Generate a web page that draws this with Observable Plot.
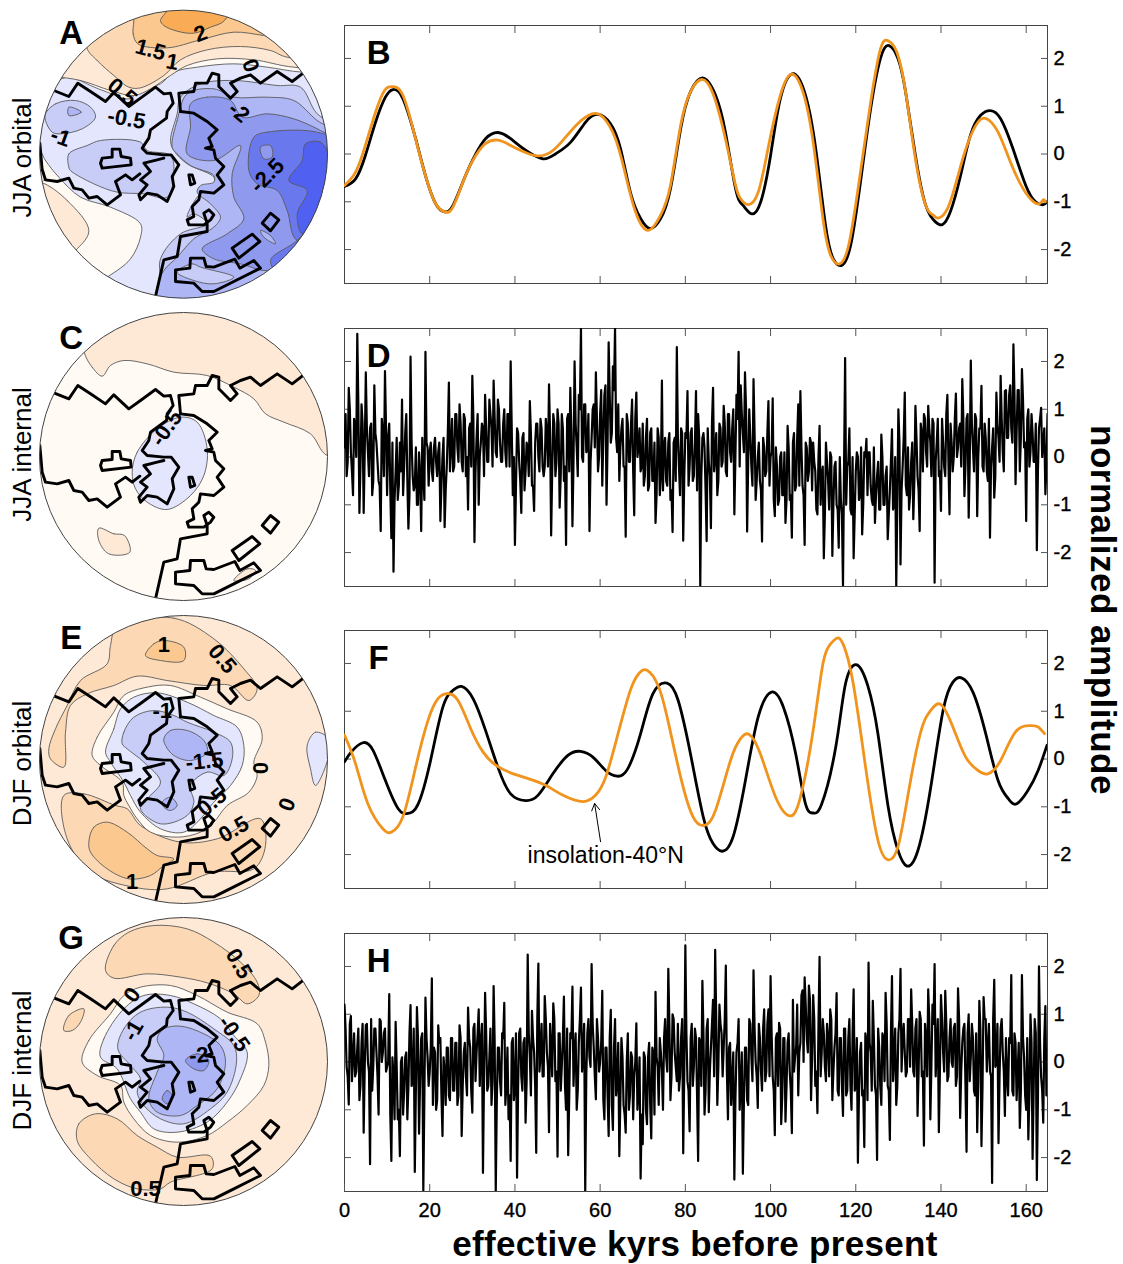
<!DOCTYPE html>
<html><head><meta charset="utf-8">
<script src="https://cdn.jsdelivr.net/npm/d3@7"></script>
<script src="https://cdn.jsdelivr.net/npm/@observablehq/plot@0.6"></script>
<style>
html,body{margin:0;padding:0;background:#fff}
#page{position:relative;width:1123px;height:1264px;overflow:hidden;font-family:"Liberation Sans",Arial,sans-serif}
#page>div{position:absolute}
#page svg{display:block;overflow:visible;background:transparent}
#page svg g[aria-label*="tick label"]{font-size:20px;stroke:#000;stroke-width:.35px}
</style></head><body><div id="page"></div>
<script>
// ---------- time-series values: [effective kyr, normalized amplitude]
const bBlack=[[0,-.68],[2.6,-.52],[4.9,-.03],[7.3,.67],[9.6,1.19],[11.4,1.35],[13.7,1.16],[16.7,.32],[19,-.45],[21.4,-1.04],[23.5,-1.21],[25.5,-1.07],[28.4,-.45],[30.8,0],[33.1,.32],[36,.45],[39,.32],[42.5,.08],[46.6,-.1],[49.5,0],[53.1,.25],[56.6,.67],[59.5,.83],[62.4,.64],[64.8,.11],[67.1,-.8],[69.5,-1.35],[71.8,-1.56],[74.2,-1.35],[76.5,-.73],[78.9,.53],[81.2,1.3],[84.2,1.59],[87.1,1.23],[89.4,.46],[91.8,-.73],[93.5,-1.07],[95.5,-1.25],[97.7,-1],[100,-.03],[102.3,1.16],[105.3,1.68],[108.2,1.23],[110.6,.11],[112.9,-1.49],[114.7,-2.19],[116.7,-2.33],[118.8,-1.91],[121.1,-.59],[123.5,.95],[125.8,2],[127.8,2.27],[129.9,2],[131.7,1.3],[134,-.03],[136.4,-1.07],[138.7,-1.42],[140.3,-1.48],[142.2,-1.21],[144.6,-.45],[146.9,.39],[149.3,.81],[151.6,.91],[154,.74],[156.9,.11],[159.9,-.66],[162.2,-1],[164,-1.06],[164.9,-1]];
const bOrange=[[0,-.66],[2.6,-.38],[4.9,.18],[7.3,.88],[9.4,1.33],[11.2,1.41],[13.7,1.23],[16.5,.38],[19,-.45],[21.4,-1.04],[23.5,-1.21],[25.5,-1.1],[28.4,-.45],[30.8,-.03],[33.1,.22],[36,.29],[39,.18],[42.5,.03],[45.4,-.04],[48.4,.04],[51.3,.29],[54.8,.64],[58.1,.84],[60.7,.77],[63.6,.32],[66,-.45],[68.3,-1.21],[71.2,-1.6],[74.2,-1.28],[76.5,-.66],[78.9,.6],[81.2,1.3],[83.8,1.56],[86.5,1.26],[89.4,.32],[91.8,-.66],[93,-.94],[94.7,-1.06],[97.1,-.8],[99.4,.11],[102.3,1.23],[105,1.67],[107.6,1.3],[110,.25],[112.3,-1.35],[114.1,-2.12],[116.2,-2.3],[118.5,-1.84],[121.1,-.38],[123.5,1.09],[125.8,2.2],[127.6,2.37],[129.6,2.14],[131.7,1.3],[134,-.1],[136.4,-1.07],[138.2,-1.28],[139.4,-1.34],[141.7,-1.11],[144,-.45],[146.4,.25],[148.7,.67],[150.7,.74],[153.4,.46],[156.3,-.17],[159.3,-.73],[161.6,-.99],[163.1,-1.04],[164,-.96],[164.5,-1]];
const fBlack=[[0,-.06],[1.6,.15],[4.3,.34],[6.7,.18],[9.6,-.45],[12.6,-1.04],[14.9,-1.14],[17.3,-.94],[20.2,-.03],[23.1,1.09],[25.5,1.44],[27.5,1.52],[30.2,1.26],[33.1,.6],[36,-.17],[39,-.73],[42.5,-.87],[45.4,-.76],[48.9,-.31],[52.5,.08],[55.4,.16],[58.3,.04],[61.3,-.24],[64,-.36],[66.5,-.2],[69.5,.53],[72.4,1.37],[75.7,1.59],[78.3,1.23],[81.2,.11],[84.2,-1.21],[86.5,-1.77],[88.6,-1.93],[91.2,-1.63],[94.1,-.45],[97.1,.88],[100.2,1.4],[103,1.09],[105.9,.11],[108.2,-.94],[110,-1.13],[112,-.94],[115.3,.25],[117.6,1.58],[120.3,1.97],[122.9,1.51],[125.2,.53],[127.6,-1],[129.9,-1.91],[132,-2.24],[134.6,-1.91],[137.6,-.59],[140.5,1.02],[142.8,1.61],[144.8,1.7],[147.5,1.4],[150.5,.53],[153.4,-.45],[155.8,-.83],[157.7,-.94],[160.4,-.66],[162.8,-.24],[164.9,.29]];
const fOrange=[[0,.5],[2.6,-.1],[5.5,-.94],[9,-1.46],[11,-1.53],[13.7,-1.21],[16.7,-.17],[19.6,.81],[21.9,1.26],[24,1.37],[26.6,1.23],[29.6,.64],[32.5,.15],[35.5,-.13],[39,-.29],[43.1,-.41],[47.2,-.55],[51.3,-.76],[56,-.89],[58.9,-.76],[61.3,-.38],[64.2,.53],[67.1,1.44],[69.1,1.79],[71,1.86],[73.6,1.54],[75.9,.81],[78.9,-.38],[81.8,-1.21],[84.4,-1.39],[87.1,-1.07],[90.6,-.03],[93,.43],[94.9,.52],[97.6,.11],[101.2,-.8],[104.5,-1.19],[107,-.8],[110,.6],[112.3,2],[114.1,2.41],[115.5,2.53],[117,2.41],[119.4,1.58],[122.3,-.17],[125.2,-1.7],[127.6,-2.11],[129.9,-1.84],[132.3,-.73],[135.2,.55],[137.6,1.02],[140,1.14],[142.8,.67],[145.8,.04],[148.7,-.24],[151,-.31],[154,-.03],[157.5,.57],[161,.7],[162.8,.67],[164.3,.53]];

// internal-variability traces: spike readings every half kyr (ten per 5 kyr row)
const dValues=[
.2,-.4,1.45,.1,-.8,.6,2.58,-1.17,1.1,-1.17,
1.77,.1,.6,-.8,1.5,.3,-.5,-1.55,.5,1.8,
-.8,.7,-1.7,-2.4,-.3,-.9,.3,1.2,-.2,.9,
-1.5,2.1,-.4,-.6,-1,.1,-1.55,-.4,2.2,.2,
.1,-.3,.2,-.1,.1,-1.34,0,-1.47,-.2,1.56,
.2,-.3,.9,.2,1.1,-.1,.9,-.4,-1.1,.7,
1.7,-1.78,.4,-1,.3,.6,1.3,-.1,1.2,.6,
1.6,.1,1.2,.3,-.1,1,-.2,.9,2,-.8,
-1.84,.6,-.1,-1.17,.5,-.3,.2,1.17,-.6,-1.13,
.7,0,.8,-.2,-.2,.5,1.52,-1.64,.9,-.4,
1,-1.06,.9,-.5,-1.84,.9,1.45,-1.45,2,.2,
1.3,2.7,-.1,1.1,.2,-1.55,.4,1.1,1.77,-.3,
.9,-.6,1.3,-1,2.4,.3,1.9,2.7,.1,-.5,
.6,-.2,-1.67,.7,-.1,1.2,-1.22,1.35,.2,-.3,
.7,-.4,.8,-.6,.6,-.5,-1.38,.6,-.8,1.6,
.2,-.5,.3,-.9,-1.57,.4,2.3,-.2,.6,-1.75,
.5,1.38,-.2,.6,-.4,1.38,.9,-2.7,.4,.2,
-1.76,-.1,-1.49,1.45,0,-.8,.7,-.2,1.07,-.3,
.9,.1,.6,-1.2,1.3,2.2,1.5,.5,1.77,-1.56,
1,-.2,1.63,-.9,0,-.5,-1.77,.2,-.3,1.17,
0,1.23,-1.24,-.2,-.9,.1,-.8,-1.38,.65,-.9,
-1.69,.5,-.6,1.1,1.38,-.6,-1.84,.2,-.3,.3,
.3,-.3,-1.2,.65,-.4,-2.12,.3,-.5,.1,-2.07,
-.2,-1,-1.9,-.9,-2.7,2.07,-.2,.6,-1.2,-2.12,
-.3,0,-.8,-1.62,.1,.38,.1,-.6,-1,-1.38,
-.4,-1.1,.47,-1,-.4,-1.72,-.7,.58,-1,-2.7,
1,-2.25,-.2,1.35,-.8,-1.1,-.1,-1.3,1.07,-.4,
-1.55,.5,.9,.1,1.07,.3,.8,-2.63,.3,-.4,
-1.13,.3,-.4,1.3,-1.2,.3,0,1.33,.2,.7,
1.63,-.82,.8,-1.27,2.02,.2,.9,-1.24,.6,1.49,
-.3,.4,-.5,-1.69,.2,-.85,1.35,.4,1.7,.1,
1.38,.4,1.3,.6,2.36,-.57,1.4,-.3,1.84,.2,
-1.34,1,.1,.5,-.1,-1.95,.6,1.03,.3,-.78,.9];
// readings of the dense band between those spikes
const dBand=[
.9,-.1,1,-.3,.8,0,1.1,-.2,.7,.1,
.6,-.4,.7,-.5,.5,-.1,-.6,.8,-.4,.6,
.4,-.7,.3,-.9,.4,-.6,-.3,-.8,.5,-.5,
-.8,.3,-.7,.2,-1,-.4,.4,-.9,.3,-.6,
.3,-.5,.4,-.4,.3,-.6,.4,-.7,.5,-.3,
.8,-.2,.9,-.1,.7,-.3,.8,0,.6,-.2,
.8,-.3,.9,0,.7,-.4,.6,-.1,.9,-.2,
.8,0,1,-.1,.7,.1,.9,-.2,.6,0,
-.6,.5,-.5,.4,-.7,.3,-.4,.5,-.6,.3,
.7,-.3,.6,-.4,.8,-.2,.5,-.3,.7,-.1,
.7,-.4,.6,-.2,.8,-.3,.5,-.1,.7,-.4,
1,0,1.1,.1,.9,-.1,1,.2,.8,0,
1.4,.4,1.5,.3,1.3,.5,1.4,.4,1.1,.2,
.8,-.2,.9,-.1,.7,-.3,.8,0,.6,-.2,
-.6,.4,-.7,.5,-.5,.3,-.8,.4,-.4,-.7,
.4,-.6,.5,-.7,.3,-.5,.4,-.8,.5,-.4,
.4,-.6,.5,-.5,.3,-.7,.4,-.4,.5,-.7,
.6,-.4,.7,-.3,.5,-.5,.6,-.1,.7,-.4,
.9,-.1,1,0,.8,-.2,.9,.1,1,-.1,
.4,-.6,.5,-.5,.3,-.7,.4,-.4,.5,-.6,
.1,-.9,.2,-1,0,-.8,.1,-.9,.2,-.8,
.3,-.7,.4,-.6,.2,-.8,.3,-.5,.4,-.7,
-.1,-1.1,0,-1,-.2,-1.2,-.1,-1.1,0,-1,
-.1,-1.1,0,-1.2,-.2,-1,-.1,-1.1,0,-1.2,
.1,-.9,.2,-1,0,-.8,.1,-.9,.2,-.8,
-.1,-1.1,0,-1,-.2,-1.2,-.1,-1.1,0,-1,
.3,-.7,.4,-.6,.2,-.8,.3,-.5,.4,-.7,
.7,-.3,.8,-.2,.6,-.4,.7,-.1,.8,-.3,
.8,-.2,.9,-.1,.7,-.3,.8,0,.6,-.2,
.8,-.2,.9,-.1,.7,-.3,.8,0,.6,-.2,
.7,-.3,.8,-.2,.6,-.4,.7,-.1,.8,-.3,
1.4,.4,1.5,.3,1.3,.5,1.4,.4,1.2,.3,
.8,-.2,.9,-.1,.7,-.3,.8,0,.6,-.2];
const hValues=[
1.2,-.1,-.89,.96,.1,-.3,.3,-.8,.4,-1.48,
.77,0,-2.14,-.6,.7,.2,-1.1,.86,.2,.7,
-.1,1.42,-2.07,-.3,.84,-1.2,-1.97,.1,-.6,.2,
-.5,1.19,-.4,-2.3,1.15,-1.5,.5,-2.7,1.35,.1,
-.2,1.75,.3,-1,.77,.5,-1.55,-.2,.3,-.7,
.5,-.6,.4,-.9,.77,-1.55,.2,-.3,1.14,.3,
-1.06,.8,.2,1.1,.4,-2.32,1.45,-.6,.1,-.9,
1.59,-2.7,.3,-.4,.6,1.24,-.5,-1.2,-2.07,.5,
-.5,-2.42,.6,-.3,.4,-1.27,2.25,.1,1.07,.2,
-1.9,2.06,.1,-.3,1.38,.2,-1.47,.3,1.23,-.4,
-1.98,.6,-.1,1.37,-1,-1.95,.6,1.58,.2,-1,
.4,1.56,.2,-2.7,.6,.1,2.05,.3,-.78,.5,
0,1.49,-1.2,.3,-1.55,1.09,-1.42,.9,-.4,-1.97,
.5,-.9,-1.48,.6,-.7,.1,-.3,.81,-.6,-2.44,
-1.72,.1,-1.3,.4,-1.6,.2,1.47,-.1,.5,-.2,
.5,.1,1.95,-.8,1,.2,-.4,-.6,.5,-1.91,
2.44,-.4,-1.45,.8,-.1,.5,-2.07,.4,1.7,-1.1,
.7,-1.05,.3,1.3,2.35,-.9,1.2,.6,.3,2.02,
-1.2,.4,-.4,-2.46,.2,.9,-.5,-2.34,.3,-.8,
.9,.1,1.92,0,-.96,.5,-.6,1.1,-.2,1.1,
1.8,-.3,-1.53,.6,.82,-1.3,.5,-1.25,.4,-.2,
-1.49,-.2,.3,-.7,.4,1.5,1.77,.5,1.6,-.8,
1.4,-.5,-1.07,2.2,.2,.6,-.4,.5,1.1,-.8,
.3,1.44,-.7,.5,-1.13,.7,-.6,.9,-1,1.52,
-.5,-2.11,.2,-.7,-1.78,.4,2.08,.2,1.28,-.5,
-2.05,.3,-.9,.5,1.45,-.5,-1.63,1.8,.1,-.9,
.6,1.95,.5,.2,-.2,.9,1.52,-.2,.7,-1.13,
1.05,-.3,-1.75,.5,1.52,-1.2,1.2,2.05,.3,-1.47,
1.4,.2,1.49,-.4,.5,0,.7,-.5,1.54,-1.17,
.4,.8,-1.88,1,.1,.5,-.7,-1.47,1.28,-1.76,
1.36,.9,.3,-.2,-2.53,1.72,0,-1.7,.7,.2,
-1.13,-.3,.5,1.82,-.7,.4,-.2,-1.38,1.82,.1,
-1,-1.62,1,-2.03,.9,-2.47,2,-.3,-1.27,1.17,-.3];
const hBand=[
.7,-.3,.8,-.4,.6,-.2,.7,-.5,.8,-.1,
.8,-.2,.9,-.1,.7,-.3,.9,0,.6,-.2,
0,-1.1,.1,-1.2,-.1,-1,0,-1.1,.1,-1.2,
.6,-.5,.7,-.6,.5,-.4,.6,-.7,.5,-.5,
.3,-.9,.2,-.8,.4,-.7,.1,-.9,.3,-.8,
.5,-.6,.4,-.7,.5,-.5,.4,-.7,.5,-.6,
.7,-.4,.6,-.5,.8,-.3,.6,-.5,.7,-.4,
.4,-.8,.3,-.7,.5,-.9,.3,-.7,.4,-.8,
.6,-.5,.7,-.6,.5,-.4,.6,-.7,.5,-.5,
.9,-.2,.8,-.3,.9,-.1,.8,-.3,.9,-.2,
.6,-.6,.5,-.5,.7,-.7,.5,-.5,.6,-.6,
.9,-.2,.8,-.3,.9,-.1,.8,-.3,.9,-.2,
.4,-.8,.3,-.7,.5,-.9,.3,-.7,.4,-.8,
.1,-1.1,0,-1,.2,-1.2,0,-1,.1,-1.1,
.2,-1,.1,-.9,.3,-1.1,.1,-.9,.2,-1,
.9,-.2,.8,-.3,.9,-.1,.8,-.3,.9,-.2,
.6,-.6,.5,-.5,.7,-.7,.5,-.5,.6,-.6,
.9,-.2,.8,-.3,.9,-.1,.8,-.3,.9,-.2,
.3,-.9,.2,-.8,.4,-1,.2,-.8,.3,-.9,
.8,-.4,.7,-.3,.8,-.2,.7,-.4,.8,-.3,
.6,-.6,.5,-.5,.7,-.7,.5,-.5,.6,-.6,
1.3,.1,1.2,.2,1.4,0,1.2,.2,1.3,.1,
.9,-.2,.8,-.3,.9,-.1,.8,-.3,.9,-.2,
.6,-.6,.5,-.5,.7,-.7,.5,-.5,.6,-.6,
.5,-.7,.4,-.6,.6,-.8,.4,-.6,.5,-.7,
.7,-.5,.6,-.4,.8,-.6,.6,-.4,.7,-.5,
.9,-.2,.8,-.3,.9,-.1,.8,-.3,.9,-.2,
.9,-.2,.8,-.3,.9,-.1,.8,-.3,.9,-.2,
.9,-.2,.8,-.3,.9,-.1,.8,-.3,.9,-.2,
.7,-.5,.6,-.4,.8,-.6,.6,-.4,.7,-.5,
.9,-.2,.8,-.3,.9,-.1,.8,-.3,.9,-.2,
.5,-.7,.4,-.6,.6,-.8,.4,-.6,.5,-.7,
.5,-.7,.4,-.6,.6,-.8,.4,-.6,.5,-.7];
const kyrStep=.25;
const xTicks=[20,40,60,80,100,120,140,160];
const xTickLabels=[0,20,40,60,80,100,120,140,160];
const yTicks=[-2,-1,0,1,2];
const arrowF=[{x1:60.1,y1:-1.73,x2:58.7,y2:-.93}];

// ---------- map geometry in map grid units (pole near 549, 453 on panel C)
const coastTop=[[160,262],[205,280],[232,240],[270,265],[315,295],[340,268],[385,310],[420,285],[465,252],[490,272],[510,270],[518,300],[500,325],[498,345],[450,380],[445,405],[425,435],[440,450],[490,455],[512,455],[535,485],[515,520],[520,550],[500,595],[470,575],[440,570],[420,590],[415,575],[440,545],[420,530],[450,505],[430,480],[470,470],[490,465]];
const coastEast=[[540,325],[535,270],[580,265],[585,240],[620,240],[635,210],[655,215],[655,250],[690,285],[710,265],[690,240],[720,225],[750,215],[780,240],[830,205],[875,235],[905,212]];
const coastMid=[[540,325],[580,330],[620,355],[650,380],[625,405],[635,430],[615,435],[640,440],[645,465],[670,490],[650,515],[670,545],[640,570],[600,565],[595,590],[575,610],[580,640],[560,650],[565,665],[610,665],[630,650],[640,635],[625,620],[610,630],[620,660],[620,685],[540,700],[530,760],[490,770],[465,880]];
const coastWest=[[118,420],[125,500],[135,530],[170,535],[205,525],[220,555],[245,560],[265,585],[290,580],[320,605],[360,575],[345,535],[375,515],[395,530],[418,512]];
const island=[[305,465],[335,462],[335,438],[358,438],[362,460],[390,465],[392,485],[305,495],[300,480],[305,465]];
const islet=[[565,515],[575,515],[583,540],[570,545],[565,515]];
const boxOne=[[785,660],[810,630],[835,650],[810,683],[785,660]];
const boxTwo=[[695,735],[755,693],[778,715],[715,765],[695,735]];
const coastSouth=[[525,800],[568,795],[570,765],[610,765],[617,790],[640,792],[703,768],[718,795],[760,772],[780,795],[700,835],[640,865],[605,865],[580,840],[525,835],[525,800]];
const coastLines=[coastTop,coastEast,coastMid,coastWest,island,islet,boxOne,boxTwo,coastSouth];

// colour per contour band
const band={o4:"#F9AB55",o3:"#FBC88F",o2:"#FCD9B4",o1:"#FEE9D6",zero:"#FFFAF4",b1:"#E3E6FD",b2:"#C8CDF8",b3:"#AEB6F5",b4:"#8F9AEF",b5:"#6A78EE",b6:"#5060F0"};

const mapA=[
 ["b1",[[-60,-60],[1100,-60],[1100,1000],[-60,1000]]],
 ["zero",[[100,420],[135,480],[175,530],[240,590],[330,620],[420,670],[420,710],[390,775],[320,830],[200,900],[40,800],[40,420]]],
 ["o1",[[120,545],[200,600],[265,690],[230,745],[150,800],[40,700],[40,545]]],
 ["zero",[[100,480],[125,500],[130,540],[100,550]]],
 ["zero",[[140,262],[190,232],[225,235],[270,255],[320,275],[385,295],[420,270],[480,250],[520,215],[590,200],[700,190],[800,200],[905,215],[1100,215],[1100,-60],[-60,-60],[-60,262]]],
 ["o1",[[150,228],[240,240],[330,270],[400,285],[450,265],[510,225],[560,195],[650,175],[760,178],[880,200],[1100,200],[1100,-60],[-60,-60],[-60,228]]],
 ["o2",[[258,140],[290,180],[340,225],[385,260],[420,262],[490,225],[540,178],[620,148],[720,138],[810,150],[860,170],[1100,170],[1100,-60],[258,-60]]],
 ["o3",[[400,60],[398,100],[412,130],[500,142],[600,118],[700,95],[790,105],[900,120],[900,-60],[400,-60]]],
 ["o4",[[480,60],[500,30],[520,-20],[700,-20],[672,60],[630,80],[580,98],[530,92],[490,75]]],
 ["b2",[[135,340],[165,310],[225,300],[270,320],[285,350],[245,385],[180,400],[155,395],[135,360]]],
 ["b3",[[205,320],[243,335],[205,345]]],
 ["b2",[[205,500],[205,460],[260,435],[300,420],[420,425],[440,450],[510,465],[520,520],[500,590],[430,580],[350,575],[280,550],[210,510]]],
 ["b2",[[540,290],[600,250],[700,240],[830,255],[900,260],[950,340],[1040,400],[1040,700],[880,880],[700,930],[460,930],[470,880],[480,850],[480,775],[540,700],[620,670],[580,640],[560,650],[590,590],[640,550],[640,530],[560,490],[520,450],[510,420],[530,340]]],
 ["b3",[[515,440],[530,360],[560,280],[640,265],[700,290],[800,290],[880,300],[950,360],[1040,420],[1040,720],[900,830],[800,930],[600,930],[470,930],[470,860],[490,810],[530,770],[580,715],[640,680],[660,650],[630,610],[590,575],[600,555],[640,545],[640,525],[570,495],[530,460]]],
 ["b2",[[530,815],[575,790],[600,800],[700,830],[640,850],[580,840]]],
 ["b4",[[570,310],[620,290],[690,300],[725,350],[800,340],[880,355],[960,390],[1040,440],[1040,700],[920,720],[860,780],[800,810],[720,790],[640,775],[605,745],[680,700],[730,655],[700,590],[695,520],[720,435],[640,480],[560,460],[570,380]]],
 ["b3",[[780,690],[810,705],[825,730],[790,710]]],
 ["b5",[[760,410],[800,395],[950,395],[1040,440],[1040,700],[890,720],[860,630],[830,570],[770,550],[745,510]]],
 ["b5",[[810,780],[890,720],[960,640],[1040,600],[1040,760],[850,830]]],
 ["b4",[[780,440],[810,435],[815,470],[790,475]]],
 ["b6",[[915,430],[960,425],[985,470],[960,600],[905,700],[890,640],[920,570],[865,540],[905,480]]]
];
const mapC=[
 ["o1",[[250,135],[275,185],[305,212],[330,180],[370,165],[440,175],[520,200],[620,210],[700,245],[760,280],[795,325],[850,350],[930,385],[980,450],[1100,450],[1100,-60],[250,-60]]],
 ["b1",[[395,500],[410,440],[470,370],[540,335],[590,350],[620,430],[610,510],[570,570],[500,612],[440,590],[405,550]]],
 ["o1",[[295,668],[340,685],[372,690],[388,740],[325,745],[295,705]]],
 ["o1",[[700,825],[740,790],[765,795],[745,820]]]
];
const mapE=[
 ["o1",[[-60,-60],[1100,-60],[1100,1000],[-60,1000]]],
 ["o2",[[350,60],[520,38],[640,100],[730,190],[770,250],[745,285],[690,240],[610,240],[500,225],[410,212],[340,240],[260,265],[210,300],[195,380],[190,485],[150,460],[145,430],[165,370],[200,300],[240,225],[320,175],[330,120]]],
 ["o3",[[435,150],[460,115],[490,105],[550,125],[550,165],[480,165]]],
 ["o2",[[190,570],[250,565],[345,600],[380,610],[420,660],[540,710],[650,700],[780,640],[795,720],[760,790],[640,800],[500,850],[400,845],[270,800],[200,700]]],
 ["o3",[[265,710],[280,665],[320,650],[380,680],[440,730],[470,750],[520,760],[490,780],[450,810],[385,820],[320,790],[270,740]]],
 ["b1",[[920,420],[945,380],[985,400],[985,450],[945,540],[930,490]]],
 ["zero",[[275,450],[290,395],[340,320],[370,270],[440,245],[510,240],[600,275],[680,310],[770,350],[785,400],[760,470],[770,510],[745,560],[680,600],[640,650],[600,680],[530,695],[450,680],[410,640],[385,600],[370,570],[365,530],[300,480]]],
 ["b1",[[315,440],[340,370],[360,310],[400,275],[470,262],[560,290],[640,330],[710,365],[730,420],[725,480],[690,540],[640,590],[600,640],[550,680],[480,670],[420,620],[390,570],[370,530],[330,470]]],
 ["b2",[[365,415],[370,380],[400,335],[460,315],[520,330],[560,350],[640,380],[690,410],[695,460],[670,510],[620,500],[570,540],[580,590],[560,630],[480,655],[420,610],[440,580],[480,530],[430,470],[380,430]]],
 ["b3",[[490,400],[510,375],[560,375],[610,405],[620,440],[570,465],[520,450],[495,420]]],
 ["b3",[[485,590],[510,575],[530,600],[510,615],[490,605]]]
];
const mapG=[
 ["o1",[[-60,-60],[1100,-60],[1100,1000],[-60,1000]]],
 ["o2",[[315,195],[340,120],[385,80],[460,60],[560,70],[640,110],[720,170],[770,230],[775,270],[740,295],[700,265],[620,232],[540,215],[440,205],[340,218]]],
 ["o2",[[190,375],[205,330],[250,310],[240,350],[215,375]]],
 ["o2",[[230,705],[235,655],[285,625],[350,640],[410,690],[470,725],[530,755],[630,752],[635,790],[510,830],[480,850],[410,850],[340,820],[270,760]]],
 ["zero",[[245,470],[265,405],[330,325],[370,270],[420,245],[510,240],[590,270],[680,320],[770,355],[795,410],[805,480],[790,540],[740,600],[680,650],[620,690],[530,710],[450,690],[400,640],[370,590],[360,540],[290,510]]],
 ["b1",[[300,455],[310,400],[370,310],[430,270],[510,270],[580,295],[660,340],[700,390],[740,440],[720,520],[680,590],[620,650],[530,680],[460,670],[420,620],[390,580],[350,490]]],
 ["b2",[[352,430],[370,370],[420,320],[500,305],[560,320],[640,370],[700,420],[708,470],[680,560],[630,610],[550,655],[480,640],[430,600],[410,560],[420,520],[390,480]]],
 ["b3",[[470,400],[490,370],[540,362],[610,385],[660,420],[675,470],[650,550],[590,600],[540,630],[470,620],[445,580],[470,500],[490,450]]],
 ["b4",[[555,465],[590,445],[625,465],[610,495],[580,490]]],
 ["b4",[[485,580],[500,555],[515,570],[500,595]]]
];
const labelsA=[["2",600,100,-20],["1.5",450,148,15],["1",515,185,10],["0",750,195,70],["0.5",365,275,40],["-0.5",378,355,10],["-1",180,410,20],["-2",715,335,40],["-2.5",800,525,-45]];
const labelsC=[["-0.5",498,368,-55]];
const labelsE=[["1",490,118,0],["0.5",665,160,50],["0.5",700,672,-30],["1",395,828,0],["0",778,488,90],["0",860,597,-70],["-1",485,315,0],["-1.5",612,468,-5],["0.5",635,590,-40]];
const labelsG=[["0.5",715,175,60],["0",395,268,-55],["-1",398,375,-60],["-0.5",700,385,55],["-2",595,450,-5],["0.5",435,850,0]];

const font='"Liberation Sans",Arial,sans-serif';
const page=document.getElementById("page");
function place(el,left,top){const d=document.createElement("div");d.style.left=left+"px";d.style.top=top+"px";d.appendChild(el);page.appendChild(d);}

// ---------- one polar map
function mapPanel(fills,labels,letter,side,sideY,top,poleY,id){
  const shift=poleY-453;
  const poly=fills.map(([k,pts])=>Plot.line(pts,{x:d=>d[0],y:d=>d[1],fill:band[k],stroke:"#5a5a5a",strokeWidth:.9,curve:"catmull-rom-closed"}));
  const coast=coastLines.map(pts=>Plot.line(pts,{x:d=>d[0],y:d=>d[1]+shift,stroke:"#000",strokeWidth:2.9,strokeLinejoin:"round",curve:"linear"}));
  const svg=Plot.plot({width:340,height:305,margin:0,
    x:{domain:[0,1020],axis:null},y:{domain:[915,0],axis:null},
    style:{fontFamily:font,background:"transparent"},
    marks:[
      Plot.dot([[549,poleY]],{x:d=>d[0],y:d=>d[1],r:144,fill:band.zero,stroke:"none"}),
      ...poly,...coast,
      Plot.dot([[549,poleY]],{x:d=>d[0],y:d=>d[1],r:144,fill:"none",stroke:"#444",strokeWidth:1}),
      Plot.text(labels,{x:d=>d[1],y:d=>d[2],text:d=>d[0],rotate:d=>d[3],fontSize:22,fontWeight:"bold",fill:"#000"}),
      Plot.text([letter],{x:212,y:100,text:d=>d,fontSize:33,fontWeight:"bold",fill:"#000"}),
      Plot.text([side],{x:66,y:sideY,text:d=>d,rotate:-90,fontSize:26,fill:"#000"})
    ]});
  const cx=svg.scale("x").apply(549),cy=svg.scale("y").apply(poleY);
  const ns="http://www.w3.org/2000/svg";
  const defs=document.createElementNS(ns,"defs"),cp=document.createElementNS(ns,"clipPath"),c=document.createElementNS(ns,"circle");
  cp.id=id;c.setAttribute("cx",cx);c.setAttribute("cy",cy);c.setAttribute("r",144);cp.appendChild(c);defs.appendChild(cp);svg.prepend(defs);
  svg.querySelectorAll('g[aria-label="line"]').forEach(g=>g.setAttribute("clip-path",`url(#${id})`));
  place(svg,0,top);
}
mapPanel(mapA,labelsA,"A","JJA orbital",471,0,461,"clipA");
mapPanel(mapC,labelsC,"C","JJA internal",447,305,453,"clipC");
mapPanel(mapE,labelsE,"E","DJF orbital",474,605,462,"clipE");
mapPanel(mapG,labelsG,"G","DJF internal",465,905,468,"clipG");

// ---------- one time-series panel
function seriesPanel(top,letter,marks,bottomLabels){
  const tick={stroke:"#555",label:null,fill:"#000"};
  const svg=Plot.plot({width:789,height:bottomLabels?318:278,marginLeft:10,marginRight:76,marginTop:10,marginBottom:bottomLabels?50:10,
    x:{domain:[0,165]},y:{domain:[-2.71,2.69]},
    style:{fontFamily:font,background:"transparent"},
    marks:[
      Plot.frame({stroke:"#444"}),
      Plot.axisY({...tick,anchor:"left",ticks:yTicks,tickSize:-7,tickFormat:()=>""}),
      Plot.axisY({...tick,anchor:"right",ticks:yTicks,tickSize:-7,tickPadding:13,tickFormat:d=>String(d)}),
      Plot.axisX({...tick,anchor:"top",ticks:xTicks,tickSize:-7,tickFormat:()=>""}),
      bottomLabels
        ?Plot.axisX({...tick,anchor:"bottom",ticks:xTickLabels,tickSize:-7,tickPadding:18,tickFormat:d=>String(d)})
        :Plot.axisX({...tick,anchor:"bottom",ticks:xTicks,tickSize:-7,tickFormat:()=>""}),
      ...marks,
      Plot.text([letter],{x:8,y:2.11,text:d=>d,fontSize:33,fontWeight:"bold",fill:"#000"})
    ]});
  place(svg,334,top);
}
const smooth=(rows,color)=>Plot.line(rows,{x:d=>d[0],y:d=>d[1],stroke:color,strokeWidth:2.8,curve:"natural",clip:true});
const weave=(spikes,dense)=>spikes.flatMap((v,i)=>i<dense.length?[v,dense[i]]:[v]);
const jag=vals=>Plot.line(vals,{x:(d,i)=>i*kyrStep,y:d=>d,stroke:"#000",strokeWidth:2.2,clip:true});
const ORANGE="#F0941E";
seriesPanel(15,"B",[smooth(bBlack,"#000"),smooth(bOrange,ORANGE)],false);
seriesPanel(318,"D",[jag(weave(dValues,dBand))],false);
seriesPanel(620,"F",[smooth(fBlack,"#000"),smooth(fOrange,ORANGE),
  Plot.arrow(arrowF,{x1:"x1",y1:"y1",x2:"x2",y2:"y2",stroke:"#000",strokeWidth:1,headLength:12}),
  Plot.text(["insolation-40°N"],{x:61.3,y:-2.03,text:d=>d,fontSize:23,fill:"#000"})],false);
seriesPanel(923,"H",[jag(weave(hValues,hBand))],true);

// ---------- shared axis titles
const xt=document.createElement("span");xt.textContent="effective kyrs before present";
xt.style.cssText="display:block;width:600px;text-align:center;font:bold 35px "+font+";white-space:nowrap;letter-spacing:.3px";
place(xt,395,1224);
const yt=document.createElement("span");yt.textContent="normalized amplitude";
yt.style.cssText="display:block;width:420px;text-align:center;font:bold 35px "+font+";white-space:nowrap;letter-spacing:.5px;transform:rotate(90deg);transform-origin:center";
place(yt,893,590);
</script></body></html>
